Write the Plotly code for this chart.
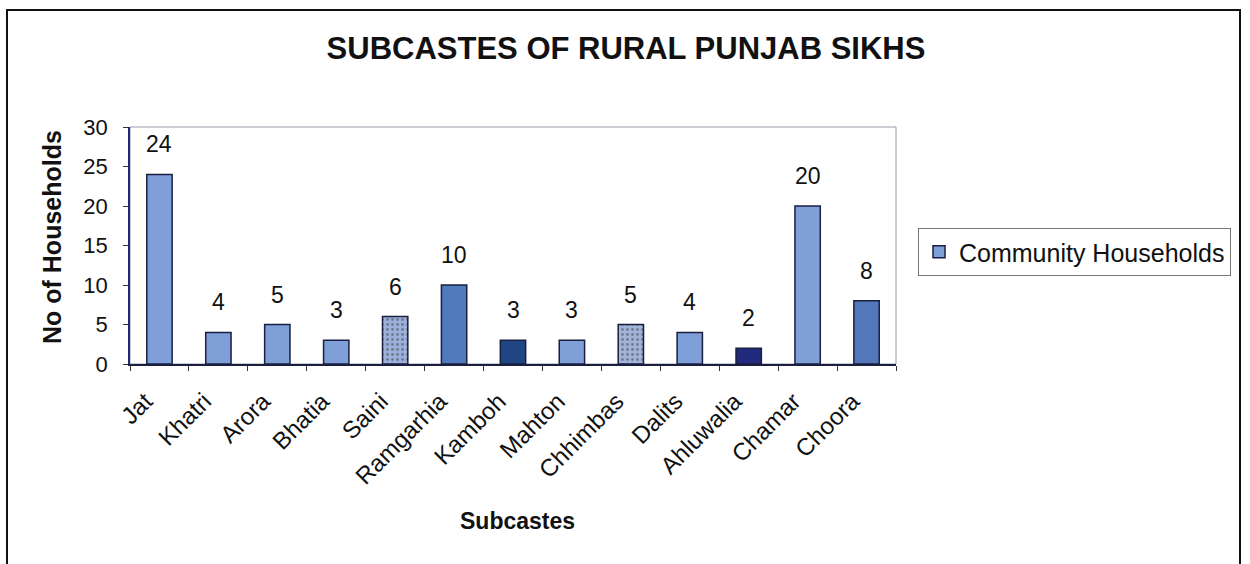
import plotly.graph_objects as go

# Subcaste household counts
subcastes = ["Jat", "Khatri", "Arora", "Bhatia", "Saini", "Ramgarhia", "Kamboh",
             "Mahton", "Chhimbas", "Dalits", "Ahluwalia", "Chamar", "Choora"]
households = [24, 4, 5, 3, 6, 10, 3, 3, 5, 4, 2, 20, 8]

bar_colors = ["#7f9fd9", "#7f9fd9", "#7f9fd9", "#7f9fd9", "#9cb0dc", "#4f7bbd", "#1f4584",
              "#7f9fd9", "#a2b3da", "#7f9fd9", "#222a7e", "#7f9fd9", "#5377bb"]
bar_patterns = ["", "", "", "", ".", "", "", "", ".", "", "", "", ""]

FONT = "Liberation Sans, Arial, sans-serif"

# plot area in pixels
L, R, T, B = 130, 896, 127, 364
W, H = 1250, 564

def px_x(p):
    return (p - L) / (R - L)

def px_y(p):
    return (B - p) / (B - T)

fig = go.Figure()
fig.add_trace(go.Bar(
    x=subcastes,
    y=households,
    name="Community Households",
    marker=dict(
        color=bar_colors,
        line=dict(color="#1b1f3f", width=1.5),
        pattern=dict(shape=bar_patterns, fgcolor="#3c5c9e", size=5, solidity=0.25),
    ),
    width=0.43,
    showlegend=True,
))

# value labels above each bar
for cat, val in zip(subcastes, households):
    fig.add_annotation(x=cat, y=val, text=str(val), showarrow=False,
                       yanchor="bottom", yshift=15,
                       font=dict(family=FONT, size=23, color="#111111"))

# axis titles
fig.add_annotation(xref="paper", yref="paper", x=px_x(517), y=px_y(521),
                   text="<b>Subcastes</b>", showarrow=False,
                   xanchor="center", yanchor="middle",
                   font=dict(family=FONT, size=23, color="#111111"))
fig.add_annotation(xref="paper", yref="paper", x=px_x(52), y=px_y(237),
                   text="<b>No of Households</b>", showarrow=False, textangle=-90,
                   xanchor="center", yanchor="middle",
                   font=dict(family=FONT, size=25, color="#111111"))

# plot-area frame (top/right) and outer chart border
fig.add_shape(type="rect", xref="paper", yref="paper", x0=0, x1=1, y0=0, y1=1,
              line=dict(color="#9a9aa8", width=1), layer="below")
fig.add_shape(type="rect", xref="paper", yref="paper",
              x0=px_x(7), x1=px_x(1240), y0=px_y(600), y1=px_y(10),
              line=dict(color="#111111", width=2))

fig.update_layout(
    width=W, height=H,
    margin=dict(l=L, r=W - R, t=T, b=H - B, autoexpand=False),
    paper_bgcolor="white",
    plot_bgcolor="white",
    title=dict(text="<b>SUBCASTES OF RURAL PUNJAB SIKHS</b>",
               x=626 / W, xref="container", xanchor="center",
               y=1 - 48 / H, yref="container", yanchor="middle",
               font=dict(family=FONT, size=31, color="#111111")),
    font=dict(family=FONT, color="#111111"),
    legend=dict(x=px_x(918), y=px_y(228), xanchor="left", yanchor="top",
                bordercolor="#777777", borderwidth=1, bgcolor="white",
                font=dict(family=FONT, size=25, color="#111111"),
                itemwidth=30, tracegroupgap=0),
    xaxis=dict(
        type="category",
        tickangle=-45,
        tickfont=dict(family=FONT, size=24, color="#111111"),
        ticks="outside", ticklen=5, tickcolor="#333333",
        tickson="boundaries",
        ticklabelstandoff=12,
        ticklabelshift=-14,
        showline=True, linecolor="#1b1f3f", linewidth=1.5,
        showgrid=False,
        automargin=False,
    ),
    yaxis=dict(
        range=[0, 30],
        tickvals=[0, 5, 10, 15, 20, 25, 30],
        tickfont=dict(family=FONT, size=22, color="#111111"),
        ticks="outside", ticklen=5, tickcolor="#333333",
        ticklabelstandoff=11,
        showline=True, linecolor="#1b2a7a", linewidth=1.5,
        showgrid=False, zeroline=False,
        automargin=False,
    ),
)

fig.write_html("out.html")
